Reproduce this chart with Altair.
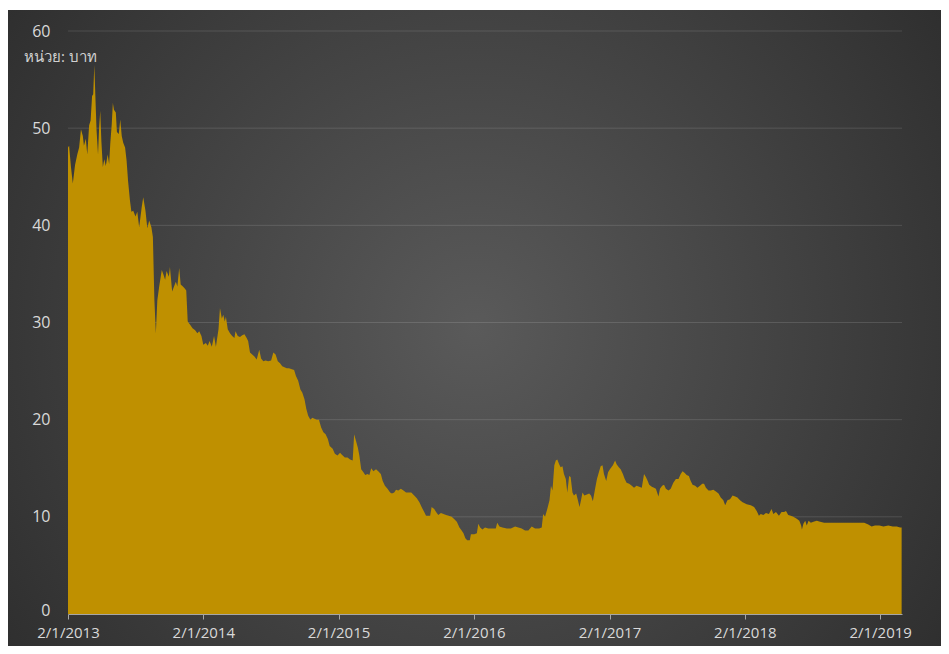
import altair as alt
import pandas as pd

# ---- data (days since 2 Jan 2013, price in baht) ----
start_date = "2013-01-02"
end_date = "2019-03-02"

days = [
    0, 3, 8, 13, 19, 25, 30, 35, 40, 43, 48, 52, 57, 61, 65, 68, 71, 74, 77, 81,
    84, 87, 90, 94, 98, 102, 107, 111, 114, 118, 121, 124, 129, 132, 137, 141, 145, 149, 154, 158,
    162, 167, 171, 176, 182, 187, 192, 199, 203, 209, 214, 219, 225, 229, 233, 237, 241, 246, 253, 257,
    262, 266, 272, 275, 281, 286, 291, 295, 300, 304, 310, 315, 319, 323, 329, 336, 343, 349, 354, 360,
    365, 372, 377, 382, 388, 394, 399, 406, 410, 415, 419, 423, 426, 431, 437, 443, 449, 452, 458, 464,
    470, 476, 482, 486, 491, 497, 503, 509, 516, 521, 527, 533, 540, 548, 554, 560, 566, 572, 578, 584,
    590, 596, 604, 610, 615, 621, 627, 632, 638, 643, 648, 654, 659, 665, 671, 677, 683, 689, 695, 701,
    706, 714, 720, 727, 734, 739, 747, 754, 761, 768, 772, 777, 782, 786, 791, 797, 802, 808, 813, 818,
    824, 831, 837, 844, 849, 855, 862, 869, 874, 880, 885, 891, 898, 905, 912, 919, 926, 934, 941, 948,
    954, 961, 966, 971, 977, 981, 988, 993, 999, 1006, 1013, 1020, 1027, 1035, 1041, 1049, 1056, 1062, 1067, 1072,
    1077, 1084, 1087, 1096, 1103, 1107, 1112, 1118, 1125, 1134, 1143, 1154, 1158, 1164, 1172, 1184, 1195, 1206, 1215, 1224,
    1233, 1242, 1251, 1260, 1271, 1278, 1282, 1287, 1293, 1299, 1303, 1307, 1312, 1316, 1320, 1325, 1329, 1334, 1338, 1343,
    1347, 1352, 1356, 1361, 1365, 1371, 1375, 1380, 1384, 1388, 1393, 1400, 1406, 1411, 1416, 1422, 1427, 1433, 1437, 1442,
    1446, 1452, 1457, 1462, 1470, 1476, 1480, 1486, 1491, 1497, 1502, 1507, 1514, 1521, 1527, 1534, 1541, 1548, 1554, 1559,
    1564, 1568, 1575, 1581, 1586, 1593, 1597, 1603, 1608, 1613, 1620, 1626, 1633, 1640, 1647, 1653, 1658, 1664, 1669, 1675,
    1680, 1685, 1692, 1698, 1705, 1711, 1716, 1721, 1728, 1734, 1741, 1748, 1755, 1761, 1768, 1773, 1779, 1786, 1793, 1800,
    1806, 1813, 1820, 1831, 1842, 1851, 1858, 1864, 1869, 1876, 1883, 1891, 1898, 1903, 1910, 1918, 1925, 1932, 1937, 1943,
    1950, 1957, 1966, 1973, 1978, 1980, 1984, 1989, 1993, 1998, 2004, 2011, 2020, 2029, 2040, 2049, 2058, 2069, 2081, 2092,
    2103, 2114, 2126, 2137, 2148, 2159, 2168, 2177, 2189, 2200, 2213, 2225, 2236, 2245, 2249,
]

price = [
    48.0, 48.2, 46.0, 44.3, 46.2, 47.3, 48.0, 49.9, 49.2, 48.2, 48.9, 47.3, 50.3, 50.8, 53.3, 53.5, 56.5, 53.1, 49.8, 47.3,
    50.1, 51.8, 48.7, 46.0, 46.8, 46.1, 47.3, 46.3, 48.4, 50.4, 52.6, 51.9, 51.6, 49.6, 49.4, 50.9, 49.2, 48.5, 48.0, 46.7,
    44.6, 42.6, 41.4, 41.5, 40.9, 41.4, 39.8, 41.9, 42.9, 41.5, 39.7, 40.5, 39.8, 38.8, 32.4, 28.9, 32.3, 33.7, 35.4, 35.0,
    34.4, 35.3, 34.7, 35.7, 33.2, 33.7, 34.2, 33.7, 35.6, 33.9, 33.7, 33.5, 33.3, 30.1, 29.8, 29.4, 29.2, 28.9, 29.1, 28.6,
    27.7, 27.9, 27.6, 28.1, 27.5, 28.6, 27.5, 29.3, 31.5, 30.4, 30.8, 30.1, 30.6, 29.3, 28.9, 28.6, 28.4, 29.1, 28.6, 28.5,
    28.7, 28.8, 28.4, 28.1, 26.9, 26.7, 26.5, 26.2, 27.2, 26.3, 26.0, 26.1, 26.0, 26.1, 26.9, 26.7, 26.0, 25.8, 25.5, 25.4,
    25.3, 25.3, 25.2, 25.1, 24.5, 24.0, 23.1, 22.8, 22.1, 21.1, 20.4, 20.0, 20.2, 20.1, 20.0, 20.0, 19.2, 18.7, 18.5, 18.0,
    17.3, 17.0, 16.5, 16.3, 16.6, 16.4, 16.1, 16.1, 15.9, 15.8, 18.5, 17.8, 17.1, 16.3, 14.9, 14.6, 14.3, 14.4, 14.3, 15.0,
    14.7, 14.9, 14.7, 14.4, 13.7, 13.2, 12.9, 12.5, 12.4, 12.5, 12.8, 12.7, 12.9, 12.7, 12.5, 12.5, 12.5, 12.2, 11.9, 11.5,
    11.0, 10.5, 10.1, 10.1, 10.1, 11.0, 10.8, 10.5, 10.2, 10.4, 10.3, 10.2, 10.1, 10.0, 9.8, 9.5, 8.9, 8.6, 8.3, 7.8,
    7.6, 7.6, 8.2, 8.2, 8.3, 9.3, 8.9, 8.7, 8.9, 8.8, 8.8, 8.8, 9.4, 9.0, 8.9, 8.8, 8.8, 9.0, 8.9, 8.8,
    8.6, 8.6, 9.0, 8.8, 8.8, 8.9, 10.3, 10.0, 10.8, 11.7, 13.2, 12.7, 15.3, 15.8, 15.9, 15.4, 15.1, 15.2, 14.4, 13.9,
    12.5, 14.2, 14.1, 12.5, 12.2, 12.4, 11.8, 11.0, 11.7, 12.5, 12.2, 12.3, 12.4, 12.2, 11.6, 12.9, 13.9, 14.7, 15.2, 15.3,
    14.4, 13.7, 14.6, 14.9, 15.3, 15.8, 15.4, 15.1, 14.9, 14.4, 13.9, 13.5, 13.4, 13.2, 13.0, 13.2, 13.1, 13.0, 14.4, 14.1,
    13.7, 13.3, 13.1, 13.0, 12.9, 12.1, 12.9, 13.2, 13.3, 12.9, 12.7, 12.9, 13.5, 13.9, 13.9, 14.4, 14.7, 14.5, 14.3, 14.2,
    13.7, 13.3, 13.2, 13.0, 13.2, 13.4, 13.4, 13.0, 12.7, 12.7, 12.8, 12.6, 12.4, 12.0, 11.7, 11.2, 11.7, 11.8, 12.2, 12.1,
    12.0, 11.7, 11.5, 11.3, 11.2, 11.0, 10.6, 10.1, 10.3, 10.2, 10.4, 10.3, 10.8, 10.3, 10.5, 10.1, 10.5, 10.5, 10.6, 10.2,
    10.1, 10.0, 9.8, 9.6, 9.1, 8.7, 9.3, 9.6, 9.1, 9.6, 9.4, 9.5, 9.6, 9.5, 9.4, 9.4, 9.4, 9.4, 9.4, 9.4,
    9.4, 9.4, 9.4, 9.4, 9.4, 9.2, 9.0, 9.1, 9.1, 9.0, 9.1, 9.0, 9.0, 8.9, 8.9,
]

grid_values = [10, 20, 30, 40, 50, 60]
y_tick_values = [0, 10, 20, 30, 40, 50, 60]
tick_dates = ["2013-01-02", "2014-01-02", "2015-01-02", "2016-01-02",
              "2017-01-02", "2018-01-02", "2019-01-02"]
unit_label = "หน่วย: บาท"

# ---- tables ----
dates = pd.Timestamp(start_date) + pd.to_timedelta(days, unit="D")
df = pd.DataFrame({"date": dates.strftime("%Y-%m-%d"), "price": price})
grid_df = pd.DataFrame({"v": grid_values})


def to_dt(d):
    return alt.DateTime(year=int(d[:4]), month=int(d[5:7]), date=int(d[8:]), utc=True)


tick_values = [to_dt(d) for d in tick_dates]

W, H = 834, 583
PAD = {"left": 60, "top": 23, "right": 39, "bottom": 32}
FONT = "Open Sans"
LABEL_COLOR = "#d9d9d9"

bg_gradient = {
    "gradient": "radial",
    "x1": 0.5, "y1": 0.5, "r1": 0,
    "x2": 0.5, "y2": 0.5, "r2": 0.72,
    "stops": [
        {"offset": 0, "color": "#5a5a5a"},
        {"offset": 1, "color": "#272727"},
    ],
}

background = alt.Chart(pd.DataFrame({"a": [0]})).mark_rect(fill=bg_gradient).encode(
    x=alt.value(-PAD["left"]), x2=alt.value(W + PAD["right"]),
    y=alt.value(-PAD["top"] + 2), y2=alt.value(H + PAD["bottom"]),
)

y_scale = alt.Scale(domain=[0, 60], nice=False, zero=True)
x_scale = alt.Scale(type="utc", domain=[to_dt(start_date), to_dt(end_date)])

y_axis = alt.Axis(values=y_tick_values, labelColor=LABEL_COLOR, labelFont=FONT,
                  labelFontSize=16, labelPadding=18, domain=False, ticks=False,
                  labelOffset={"condition": {"test": "datum.value == 0", "value": -4}, "value": 0},
                  grid=False, zindex=1)

grid = alt.Chart(grid_df).mark_rule(color="#ffffff", opacity=0.13, strokeWidth=1).encode(
    y=alt.Y("v:Q", scale=y_scale, axis=y_axis, title=None),
    x=alt.value(0), x2=alt.value(W),
)

area = alt.Chart(df).mark_area(color="#BF9000", opacity=1).encode(
    x=alt.X("date:T", scale=x_scale, title=None,
            axis=alt.Axis(values=tick_values,
                          labelExpr="utcFormat(datum.value, '%-d/%-m/%Y')",
                          labelColor=LABEL_COLOR, labelFont=FONT, labelFontSize=15,
                          labelPadding=6, labelFlush=False, labelOverlap=False,
                          domainColor="#a6a6a6", tickColor="#a6a6a6", tickSize=5,
                          grid=False, zindex=1)),
    y=alt.Y("price:Q", scale=y_scale, title=None, axis=y_axis),
)

unit_text = alt.Chart(pd.DataFrame({"t": [unit_label]})).mark_text(
    align="left", baseline="middle", font=FONT, fontSize=15, color="#d0d0d0"
).encode(text="t:N", x=alt.value(-44), y=alt.value(26))

chart = alt.layer(background, grid, area, unit_text).properties(
    width=W, height=H, padding=PAD, autosize="none", background="white"
).configure_view(stroke=None)

chart.save("out.html", embed_options={"renderer": "svg", "actions": False})
